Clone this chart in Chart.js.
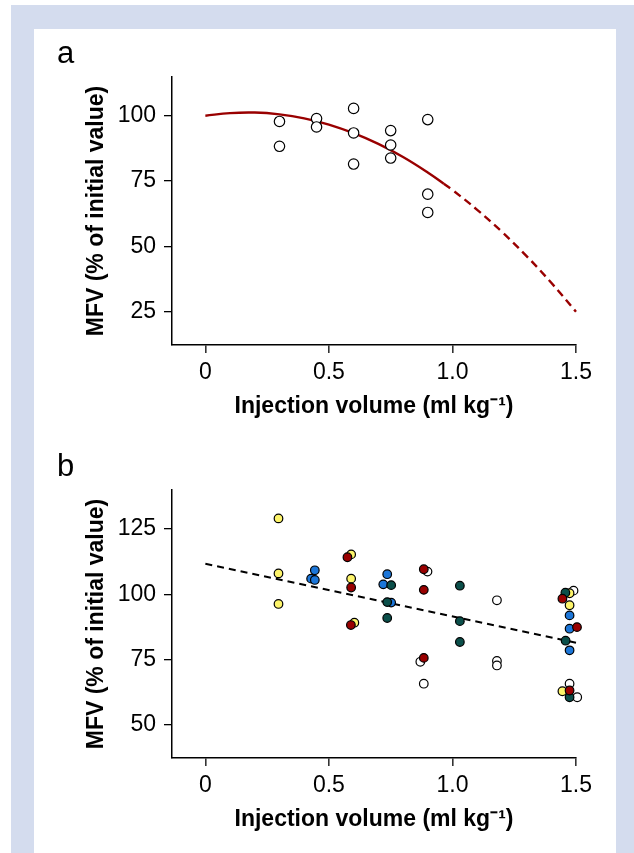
<!DOCTYPE html>
<html>
<head>
<meta charset="utf-8">
<script src="https://cdn.jsdelivr.net/npm/chart.js@4"></script>
<style>
  html, body { margin: 0; padding: 0; background: #fff; overflow: hidden; }
  body { width: 634px; height: 853px; position: relative; }
  #frame { position: absolute; left: 11px; top: 5px; width: 623px; height: 848px; background: #d4dcee; }
  #sheet { position: absolute; left: 34px; top: 29px; width: 582px; height: 824px; background: #fff; }
  .tag { position: absolute; left: 57px; font: 31px "Liberation Sans", Arial, sans-serif; line-height: 31px; color: #000; }
  canvas { position: absolute; left: 0; }
</style>
</head>
<body>
<div id="frame"></div>
<div id="sheet"></div>
<canvas id="chartA" width="634" height="440" style="top:0px"></canvas>
<canvas id="chartB" width="634" height="440" style="top:413px"></canvas>
<span class="tag" style="top:37px">a</span>
<span class="tag" style="top:450px">b</span>
<script>
// ---- panel a: MFV vs injection volume, open circles + fitted curve ----
const volA = [0.3, 0.3, 0.45, 0.45, 0.6, 0.6, 0.6, 0.75, 0.75, 0.75, 0.9, 0.9, 0.9];
const mfvA = [97.8, 88.3, 98.9, 95.7, 102.8, 93.4, 81.5, 94.3, 88.8, 83.8, 98.5, 70.0, 63.0];

// fitted curve (solid inside the data, dashed beyond)
const fitVol = [0, 0.1, 0.2, 0.3, 0.4, 0.5, 0.6, 0.7, 0.8, 0.9, 0.965];
const fitMfv = [100, 101.0, 101.2, 100.5, 99.0, 96.6, 93.3, 89.2, 84.2, 78.3, 74.0];
const extVol = [0.965, 1.0, 1.1, 1.2, 1.3, 1.4, 1.5];
const extMfv = [74.0, 71.6, 64.0, 55.6, 46.3, 36.1, 25.0];

// ---- panel b: coloured groups + regression line ----
const yellowVol = [0.296, 0.296, 0.296, 0.59, 0.59, 0.603, 1.474, 1.474, 1.445];
const yellowMfv = [129.1, 108.0, 96.3, 115.3, 106.0, 89.1, 100.4, 95.8, 62.8];
const blueVol = [0.443, 0.428, 0.443, 0.736, 0.72, 0.752, 1.474, 1.474, 1.474];
const blueMfv = [109.2, 106.0, 105.5, 107.7, 103.8, 96.8, 91.9, 86.8, 78.5];
const redVol = [0.575, 0.59, 0.589, 0.884, 0.884, 0.884, 1.445, 1.504, 1.474];
const redMfv = [114.2, 102.6, 88.2, 109.6, 101.7, 75.6, 98.3, 87.4, 63.1];
const tealVol = [0.752, 0.736, 0.736, 1.03, 1.03, 1.03, 1.457, 1.458, 1.474];
const tealMfv = [103.5, 97.0, 90.9, 103.3, 89.7, 81.7, 100.6, 82.2, 60.5];
const whiteVol = [0.899, 0.87, 0.884, 1.18, 1.18, 1.18, 1.49, 1.474, 1.505];
const whiteMfv = [108.7, 74.1, 65.7, 97.7, 74.4, 72.7, 101.4, 65.7, 60.5];
const regVol = [0, 1.5];
const regMfv = [111.7, 81.4];

// axis ticks
const xTicks = [0, 0.5, 1.0, 1.5];
const xTickLabels = ['0', '0.5', '1.0', '1.5'];
const yTicksA = [25, 50, 75, 100];
const yTicksB = [50, 75, 100, 125];

const FONT = '"Liberation Sans", Arial, Helvetica, sans-serif';
const pts = (xs, ys) => xs.map((x, i) => ({ x, y: ys[i] }));

function dots(xs, ys, fill, r) {
    return {
        data: pts(xs, ys), backgroundColor: fill, borderColor: '#000',
        borderWidth: 1.2, pointRadius: r, pointHoverRadius: r, showLine: false, clip: false
    };
}

function curve(xs, ys, color, width, dash, tension) {
    return {
        data: pts(xs, ys), borderColor: color, borderWidth: width, borderDash: dash,
        showLine: true, pointRadius: 0, pointHoverRadius: 0, tension, fill: false, clip: 4
    };
}

function makePanel(id, datasets, yMin, yMax, yTicks) {
    return new Chart(document.getElementById(id), {
        type: 'scatter',
        data: { datasets },
        options: {
            responsive: false,
            animation: false,
            layout: { padding: { left: 34, top: 77, right: 58, bottom: 0 } },
            plugins: { legend: { display: false }, tooltip: { enabled: false } },
            scales: {
                x: {
                    type: 'linear', min: -0.135, max: 1.5,
                    afterBuildTicks: s => { s.ticks = xTicks.map(v => ({ value: v })); },
                    afterFit: s => { s.height = 95; },
                    ticks: {
                        callback: v => xTickLabels[xTicks.indexOf(v)],
                        color: '#000', padding: 6, maxRotation: 0,
                        font: { family: FONT, size: 23 }
                    },
                    grid: { drawOnChartArea: false, tickLength: 8, color: '#333', lineWidth: 1.6 },
                    border: { display: true, color: '#000', width: 1.5 },
                    title: {
                        display: true, text: 'Injection volume (ml kg⁻¹)', color: '#000',
                        padding: { top: 0, bottom: 20 },
                        font: { family: FONT, size: 23, weight: 'bold' }
                    }
                },
                y: {
                    type: 'linear', min: yMin, max: yMax,
                    afterBuildTicks: s => { s.ticks = yTicks.map(v => ({ value: v })); },
                    afterFit: s => { s.width = 138; },
                    ticks: { color: '#000', padding: 8, font: { family: FONT, size: 23 } },
                    grid: { drawOnChartArea: false, tickLength: 8, color: '#000', lineWidth: 1.3 },
                    border: { display: true, color: '#000', width: 1.5 },
                    title: {
                        display: true, text: 'MFV (% of initial value)', color: '#000',
                        padding: { top: 49, bottom: 0 },
                        font: { family: FONT, size: 23, weight: 'bold' }
                    }
                }
            }
        }
    });
}

// first dataset is drawn on top
makePanel('chartA', [
    dots(volA, mfvA, '#fff', 5.2),
    curve(fitVol, fitMfv, '#990000', 2.4, [], 0.4),
    curve(extVol, extMfv, '#990000', 2.4, [8, 5], 0.4)
], 12.3, 114.8, yTicksA);

makePanel('chartB', [
    dots(redVol, redMfv, '#990000', 4.3),
    dots(tealVol, tealMfv, '#0b4f4a', 4.3),
    dots(blueVol, blueMfv, '#1c76d8', 4.3),
    dots(yellowVol, yellowMfv, '#fdf46a', 4.3),
    dots(whiteVol, whiteMfv, '#fff', 4.3),
    curve(regVol, regMfv, '#000', 2, [7, 5], 0)
], 37.2, 140.0, yTicksB);
</script>
</body>
</html>
